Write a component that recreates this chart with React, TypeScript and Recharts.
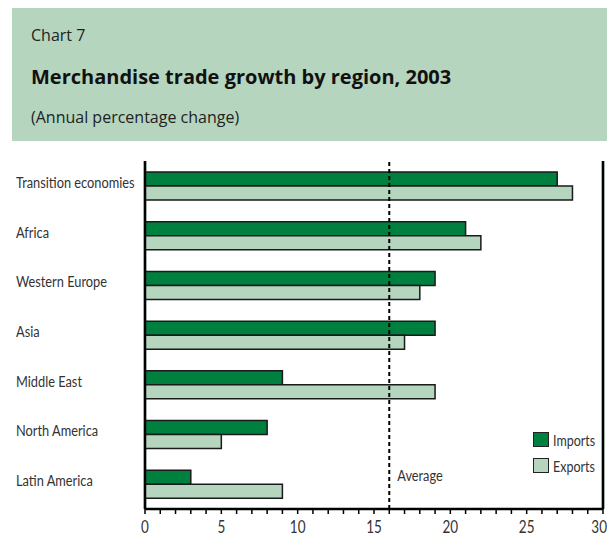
import React from "react"
import { Bar, BarChart, CartesianGrid, Legend, ReferenceLine, XAxis, YAxis } from "recharts"

const regions = [
  "Transition economies",
  "Africa",
  "Western Europe",
  "Asia",
  "Middle East",
  "North America",
  "Latin America",
]
const importGrowth = [27, 21, 19, 19, 9, 8, 3]
const exportGrowth = [28, 22, 18, 17, 19, 5, 9]
const average = 16

const gridValues = [5, 10, 15, 20, 25]
const majorTicks = [0, 5, 10, 15, 20, 25, 30]
const allTicks = [
  0, 1, 2, 3, 4, 5, 6, 7, 8, 9, 10, 11, 12, 13, 14, 15,
  16, 17, 18, 19, 20, 21, 22, 23, 24, 25, 26, 27, 28, 29, 30,
]

const data = regions.map((region, i) => ({
  region,
  imports: importGrowth[i],
  exports: exportGrowth[i],
}))

const DARK = "#00803e"
const LIGHT = "#b5d5bf"
const NARROW = "Lato, 'Liberation Sans', sans-serif"
const HEAD = "'Open Sans', 'Noto Sans', sans-serif"

// no condensed face installed, so squeeze the text horizontally
function NarrowText({ x, y, anchor = "start", size = 15, squeeze = 0.82, children }: any) {
  return (
    <text
      transform={`translate(${x}, ${y}) scale(${squeeze}, 1)`}
      textAnchor={anchor}
      fontSize={size}
      fill="#333"
      fontFamily={NARROW}
    >
      {children}
    </text>
  )
}

function XTick({ x, y, payload }: any) {
  const major = majorTicks.includes(payload.value)
  const last = payload.value === 30
  return (
    <g>
      <line x1={x} x2={x} y1={y} y2={y + 5} stroke="#000" strokeWidth={1.5} />
      {major && (
        <NarrowText x={last ? x + 4 : x} y={y + 24} anchor={last ? "end" : "middle"} size={18} squeeze={0.75}>
          {payload.value}
        </NarrowText>
      )}
    </g>
  )
}

function YTick({ y, payload }: any) {
  return (
    <NarrowText x={16} y={y + 2} size={16} squeeze={0.8}>
      {payload.value}
    </NarrowText>
  )
}

function AvgLabel({ viewBox }: any) {
  if (!viewBox) return null
  return (
    <NarrowText x={viewBox.x + 8} y={viewBox.y + viewBox.height - 28} size={16} squeeze={0.8}>
      Average
    </NarrowText>
  )
}

function LegendBox() {
  const rows = [
    { name: "Imports", color: DARK },
    { name: "Exports", color: LIGHT },
  ]
  return (
    <div style={{ fontFamily: NARROW, fontSize: 16, color: "#333" }}>
      {rows.map((r) => (
        <div key={r.name} style={{ display: "flex", alignItems: "center", height: 16, marginBottom: 10 }}>
          <span
            style={{
              display: "inline-block",
              width: 14,
              height: 13,
              background: r.color,
              border: "1.5px solid #222",
              marginRight: 4,
              flex: "none",
            }}
          />
          <span style={{ display: "inline-block", transform: "scaleX(0.78)", transformOrigin: "left center" }}>
            {r.name}
          </span>
        </div>
      ))}
    </div>
  )
}

export default function App() {
  return (
    <div style={{ position: "absolute", left: 0, top: 0, width: 607, height: 537, background: "#fff" }}>
      <svg width={607} height={150} style={{ position: "absolute", left: 0, top: 0 }}>
        <rect x={12} y={8} width={595} height={133} fill={LIGHT} />
        <text x={31} y={41} fontSize={16} fill="#222" fontFamily={HEAD}>
          Chart 7
        </text>
        <text x={31} y={84} fontSize={20} fontWeight="bold" fill="#111" fontFamily={HEAD}>
          Merchandise trade growth by region, 2003
        </text>
        <text x={31} y={123} fontSize={16} fill="#222" fontFamily={HEAD}>
          (Annual percentage change)
        </text>
      </svg>
      <div style={{ position: "absolute", left: 0, top: 0 }}>
        <BarChart
          width={607}
          height={537}
          data={data}
          layout="vertical"
          margin={{ top: 161, right: 0, bottom: 0, left: 0 }}
          barGap={0}
        >
          <CartesianGrid horizontal={false} xAxisId="top" stroke="#b5d6c0" strokeWidth={3} />
          <XAxis
            type="number"
            domain={[0, 30]}
            ticks={allTicks}
            interval={0}
            height={28}
            tickSize={0}
            tickMargin={0}
            tickLine={false}
            tick={<XTick />}
            axisLine={{ stroke: "#000", strokeWidth: 2.5 }}
          />
          <XAxis
            xAxisId="top"
            orientation="top"
            type="number"
            domain={[0, 30]}
            ticks={gridValues}
            height={0}
            tick={false}
            tickLine={false}
            axisLine={{ stroke: "#000", strokeWidth: 2.5 }}
          />
          <YAxis
            type="category"
            dataKey="region"
            width={145}
            tickLine={false}
            tick={<YTick />}
            interval={0}
            axisLine={{ stroke: "#000", strokeWidth: 2.5 }}
          />
          <YAxis
            yAxisId="right"
            orientation="right"
            type="category"
            dataKey="region"
            width={4}
            tick={false}
            tickLine={false}
            axisLine={{ stroke: "#000", strokeWidth: 2.5 }}
          />
          <Bar dataKey="imports" name="Imports" fill={DARK} stroke="#1a1a1a" strokeWidth={1.5} barSize={14} isAnimationActive={false} />
          <Bar dataKey="exports" name="Exports" fill={LIGHT} stroke="#1a1a1a" strokeWidth={1.5} barSize={14} isAnimationActive={false} />
          <ReferenceLine x={average} stroke="#000" strokeWidth={2} strokeDasharray="4 3" label={<AvgLabel />} />
          <Legend
            layout="vertical"
            align="center"
            verticalAlign="middle"
            wrapperStyle={{ left: 533, top: 431, width: 74 }}
            content={<LegendBox />}
          />
        </BarChart>
      </div>
    </div>
  )
}
